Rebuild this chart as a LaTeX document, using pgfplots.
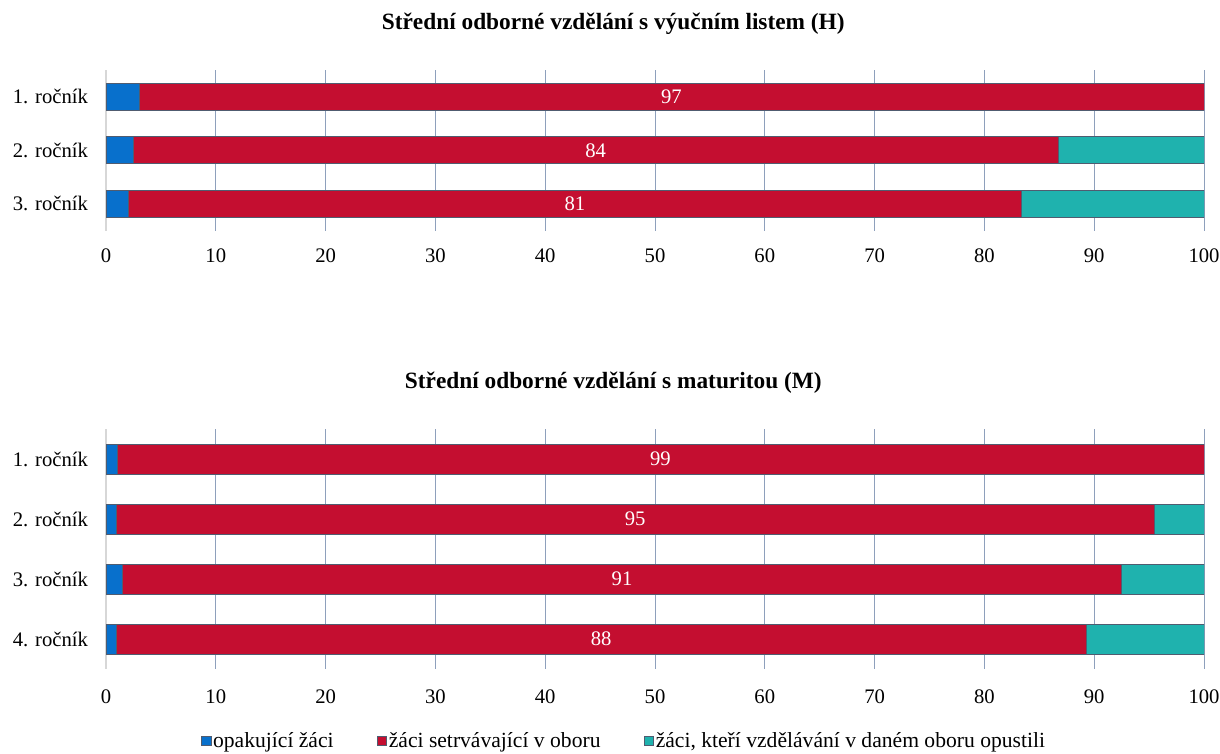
\documentclass[border=0pt]{standalone}
\usepackage{fontspec}
\setmainfont{Liberation Serif}
\usepackage{pgfplots}
\usepackage{pgfplotstable}
\pgfplotsset{compat=1.18}

\definecolor{cBlue}{RGB}{8,112,204}
\definecolor{cRed}{RGB}{196,14,48}
\definecolor{cTeal}{RGB}{31,178,174}
\definecolor{cEdge}{RGB}{80,92,112}
\definecolor{cGrid}{RGB}{142,160,188}
\definecolor{cAxis}{RGB}{215,215,215}

% H - vyucni list
\pgfplotstableread{
y blue red teal lab
0 3.0 97.0 0.0 97
1 2.5 84.2 13.3 84
2 2.0 81.4 16.6 81
}\tabH
% M - maturita
\pgfplotstableread{
y blue red teal lab
0 1.0 99.0 0.0 99
1 0.9 94.6 4.5 95
2 1.5 91.0 7.5 91
3 0.9 88.4 10.7 88
}\tabM

\pgfplotsset{
  barstyle/.style={
    scale only axis,
    width=823.5pt,
    xbar stacked,
    xmin=0, xmax=100,
    xtick={0,10,...,100},
    y dir=reverse,
    ytick=data,
    axis y line=left,
    axis x line=bottom,
    x axis line style={draw=none},
    y axis line style={draw=cAxis, line width=1pt},
    axis line style={-},
    major tick length=0pt,
    xmajorgrids,
    grid style={cGrid, line width=0.6pt},
    font=\fontsize{15.5}{18}\selectfont,
    /pgf/number format/assume math mode=true,
    yticklabel style={xshift=-10pt},
    title style={font=\fontsize{17.5}{20}\selectfont\bfseries, at={(0.462,1)}, anchor=center, yshift=29pt},
    every axis plot/.append style={draw=cEdge, line width=0.5pt},
  },
  % stacked bars put the label in the middle of the segment
  redlabels/.style={
    nodes near coords,
    point meta=\thisrow{lab},
    every node near coord/.append style={anchor=center, text=white,
      font=\fontsize{15.5}{18}\selectfont},
  },
}

\begin{document}
\begin{tikzpicture}
\useasboundingbox (0,0) rectangle (915pt,-564.75pt);

\begin{axis}[barstyle,
  at={(79.5pt,-52.5pt)}, anchor=north west,
  height=120.4pt, bar width=20.25pt,
  ymin=-0.5, ymax=2.5,
  yticklabels={1. ročník,2. ročník,3. ročník},
  xticklabel style={yshift=-10.5pt},
  title={Střední odborné vzdělání s výučním listem (H)},
]
  \addplot[fill=cBlue] table[x=blue, y=y] {\tabH};
  \addplot[fill=cRed, redlabels] table[x=red, y=y] {\tabH};
  \addplot[fill=cTeal] table[x=teal, y=y] {\tabH};
\end{axis}

\begin{axis}[barstyle,
  at={(79.5pt,-321.75pt)}, anchor=north west,
  height=180pt, bar width=22.5pt,
  ymin=-0.5, ymax=3.5,
  yticklabels={1. ročník,2. ročník,3. ročník,4. ročník},
  xticklabel style={yshift=-12pt},
  title={Střední odborné vzdělání s maturitou (M)},
  legend columns=3,
  legend style={at={(0.0865,-0.3)}, anchor=west, draw=none,
    inner sep=0pt, font=\fontsize{16.2}{18}\selectfont,
    nodes={inner sep=1.5pt},
    /tikz/every even column/.append style={column sep=31pt}},
  legend image code/.code={\draw[#1, line width=0.4pt] (0pt,-3.5pt) rectangle (7pt,3.5pt);},
]
  \addplot[fill=cBlue] table[x=blue, y=y] {\tabM};
  \addlegendentry{opakující žáci}
  \addplot[fill=cRed, redlabels] table[x=red, y=y] {\tabM};
  \addlegendentry{žáci setrvávající v oboru}
  \addplot[fill=cTeal] table[x=teal, y=y] {\tabM};
  \addlegendentry{žáci, kteří vzdělávání v daném oboru opustili}
\end{axis}
\end{tikzpicture}
\end{document}
